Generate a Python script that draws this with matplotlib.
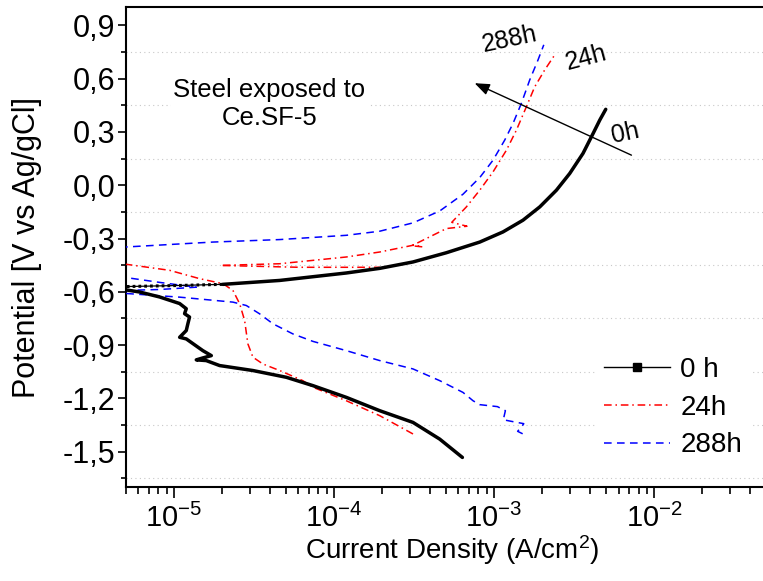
import numpy as np
import matplotlib
matplotlib.use("Agg")
import matplotlib.pyplot as plt
from matplotlib.ticker import FixedLocator, FuncFormatter, LogLocator, NullFormatter

plt.rcParams['font.family'] = ['Liberation Sans', 'DejaVu Sans']
plt.rcParams['mathtext.fontset'] = 'custom'
plt.rcParams['mathtext.rm'] = 'Liberation Sans'
plt.rcParams['mathtext.default'] = 'regular'
plt.rcParams['axes.unicode_minus'] = False

# digitised polarisation curves: log10(i / A cm^-2) and E (V vs Ag/AgCl)
# 0 h - cathodic branch
bk_cat_logi = [-5.33, -5.308, -5.214, -5.089, -4.964, -4.9225, -4.933, -4.902, -4.9125,
               -4.9225, -4.964, -4.9225, -4.819, -4.766, -4.819, -4.86, -4.7975, -4.714,
               -4.506, -4.2975, -4.131, -3.9225, -3.714, -3.506, -3.339, -3.1975]
bk_cat_e = [-0.586, -0.588, -0.601, -0.629, -0.666, -0.695, -0.723, -0.742, -0.780,
            -0.818, -0.856, -0.865, -0.931, -0.959, -0.972, -0.983, -0.987, -1.015,
            -1.043, -1.081, -1.128, -1.194, -1.269, -1.335, -1.429, -1.532]
# 0 h - anodic branch, sparse points near Ecorr
bk_an0_logi = [-5.33, -5.0, -4.694]
bk_an0_e = [-0.571, -0.565, -0.558]
# 0 h - anodic branch
bk_an_logi = [-4.694, -4.339, -3.9225, -3.714, -3.506, -3.2975, -3.089, -2.944, -2.819,
              -2.714, -2.61, -2.527, -2.444, -2.381, -2.339, -2.302]
bk_an_e = [-0.558, -0.536, -0.494, -0.468, -0.432, -0.380, -0.320, -0.263, -0.197,
           -0.122, -0.028, 0.066, 0.179, 0.291, 0.367, 0.427]

# 24 h
rd_cat_logi = [-3.506, -3.714, -3.9225, -4.131, -4.194, -4.339, -4.444, -4.506, -4.5375,
               -4.558, -4.589, -4.631, -4.694, -4.839, -5.027, -5.33]
rd_cat_e = [-1.400, -1.297, -1.213, -1.137, -1.100, -1.043, -1.006, -0.968, -0.893,
            -0.761, -0.667, -0.592, -0.554, -0.526, -0.479, -0.441]
rd_an_logi = [-4.694, -4.339, -3.9225, -3.714, -3.506, -3.446, -3.514, -3.2975, -3.169,
              -3.264, -3.1725, -3.089, -3.006, -2.9225, -2.86, -2.7975, -2.746, -2.683,
              -2.621]
rd_an_e = [-0.451, -0.442, -0.404, -0.376, -0.338, -0.347, -0.341, -0.244, -0.231,
           -0.209, -0.122, -0.028, 0.075, 0.197, 0.310, 0.442, 0.553, 0.649, 0.733]
rd_rev_logi = [-4.694, -4.214, -3.714]
rd_rev_e = [-0.452, -0.462, -0.462]

# 288 h (one continuous scan, leaves the frame on the left near Ecorr)
bl_logi = [-2.821, -2.8525, -2.827, -2.814, -2.8794, -2.942, -2.929, -2.979, -3.089,
           -3.131, -3.194, -3.339, -3.506, -3.714, -3.9225, -4.131, -4.256, -4.381,
           -4.464, -4.5475, -4.631, -4.964, -5.304, -5.40, -5.304, -5.089, -4.86,
           -5.089, -5.304, -5.40, -5.304, -4.756, -4.339, -3.9225, -3.714, -3.506,
           -3.339, -3.194, -3.089, -3.006, -2.933, -2.881, -2.829, -2.777, -2.725, -2.689]
bl_e = [-1.399, -1.385, -1.359, -1.342, -1.331, -1.320, -1.269, -1.246, -1.235,
        -1.213, -1.166, -1.100, -1.034, -0.987, -0.931, -0.879, -0.837, -0.780,
        -0.724, -0.677, -0.658, -0.630, -0.609, -0.605, -0.592, -0.587, -0.574,
        -0.547, -0.519, -0.45, -0.348, -0.320, -0.306, -0.282, -0.259, -0.212,
        -0.145, -0.051, 0.043, 0.141, 0.254, 0.348, 0.461, 0.592, 0.705, 0.790]

yticks = [-1.5, -1.2, -0.9, -0.6, -0.3, 0.0, 0.3, 0.6, 0.9]
yminor = [-1.65, -1.35, -1.05, -0.75, -0.45, -0.15, 0.15, 0.45, 0.75]

DASHDOT = (5, 2.5, 1, 2.5)
DASH = (5, 3.5)


def amps(logi):
    return np.power(10.0, np.asarray(logi))


fig = plt.figure(figsize=(7.63, 5.81), dpi=100)
ax = fig.add_axes([0.1647, 0.1613, 0.8392, 0.8258])

ax.plot(amps(bk_cat_logi), bk_cat_e, color='black', lw=2.5, solid_capstyle='round',
        solid_joinstyle='round', zorder=5)
ax.plot(amps(bk_an_logi), bk_an_e, color='black', lw=2.5, solid_capstyle='round',
        solid_joinstyle='round', zorder=5)
# near Ecorr the 0 h points are sparse: thin line with square dots
ax.plot(amps(bk_an0_logi), bk_an0_e, color='black', lw=0.9, zorder=5)
ax.plot(amps(bk_an0_logi), bk_an0_e, color='black', lw=2.2, dashes=(0.9, 1.0), zorder=5)
ax.plot(amps(rd_cat_logi), rd_cat_e, color='red', lw=1.1, dashes=DASHDOT, zorder=4)
ax.plot(amps(rd_an_logi), rd_an_e, color='red', lw=1.1, dashes=DASHDOT, zorder=4)
ax.plot(amps(rd_rev_logi), rd_rev_e, color='red', lw=1.1, dashes=DASHDOT, zorder=4)
ax.plot(amps(bl_logi), bl_e, color='blue', lw=1.1, dashes=DASH, zorder=3)

# legend entries
h0, = ax.plot([], [], color='black', lw=1.0, marker='s', ms=6)
h24, = ax.plot([], [], color='red', lw=1.1, dashes=DASHDOT)
h288, = ax.plot([], [], color='blue', lw=1.1, dashes=DASH)
leg = ax.legend([h0, h24, h288], ['0 h', '24h', '288h'], loc='upper left',
                bbox_to_anchor=(0.712, 0.318), fontsize=20, frameon=True,
                facecolor='white', edgecolor='none', framealpha=1, fancybox=False,
                handlelength=2.4, handletextpad=0.35, labelspacing=0.42,
                borderpad=0.3, numpoints=1)
leg.set_zorder(6)

ax.set_xscale('log')
ax.set_xlim(5e-6, 5e-2)
ax.set_ylim(-1.7, 1.0)

ax.yaxis.set_major_locator(FixedLocator(yticks))
ax.yaxis.set_minor_locator(FixedLocator(yminor))
ax.yaxis.set_major_formatter(FuncFormatter(lambda v, p: f"{v:.1f}".replace('.', ',')))
ax.xaxis.set_major_locator(LogLocator(base=10, numticks=10))
ax.xaxis.set_minor_locator(LogLocator(base=10, subs=np.arange(2, 10), numticks=20))
ax.xaxis.set_minor_formatter(NullFormatter())
ax.xaxis.set_major_formatter(FuncFormatter(lambda v, p: f"$10^{{{int(round(np.log10(v)))}}}$"))

ax.grid(True, which='minor', axis='y', color='#c8c8c8', lw=0.8, linestyle=(0, (1, 3)))
ax.set_axisbelow(True)

ax.tick_params(axis='both', which='major', direction='out', width=1.2)
ax.tick_params(axis='y', which='major', length=6, pad=1.5, labelsize=22)
ax.tick_params(axis='y', which='minor', length=3.5, width=1.2)
ax.tick_params(axis='x', which='major', length=8, pad=4, labelsize=21)
ax.tick_params(axis='x', which='minor', length=5, width=1.2)
for side in ax.spines.values():
    side.set_linewidth(1.5)

ax.set_xlabel('Current Density (A/cm$^2$)', fontsize=20)
ax.set_ylabel('Potential [V vs Ag/gCl]', fontsize=22)
ax.xaxis.set_label_coords(0.51, -0.095)
ax.yaxis.set_label_coords(-0.131, 0.5)

ax.text(3.96e-5, 0.457, 'Steel exposed to\nCe.SF-5', fontsize=18.5, ha='center', va='center',
        multialignment='center', linespacing=1.25,
        bbox=dict(facecolor='white', edgecolor='none', pad=2), zorder=6)
ax.text(1.25e-3, 0.818, '288h', fontsize=18, rotation=12, ha='center', va='center', zorder=6)
ax.text(3.74e-3, 0.716, '24h', fontsize=18, rotation=15, ha='center', va='center', zorder=6)
ax.text(6.56e-3, 0.293, '0h', fontsize=18, rotation=12, ha='center', va='center', zorder=6)

# trend arrow across the anodic branches
ax.annotate('', xy=(7.57e-4, 0.574), xytext=(7.22e-3, 0.169),
            arrowprops=dict(arrowstyle='-|>,head_length=0.9,head_width=0.35',
                            color='black', lw=1.0, shrinkA=0, shrinkB=0), zorder=6)

fig.savefig('out.png', dpi=100)
